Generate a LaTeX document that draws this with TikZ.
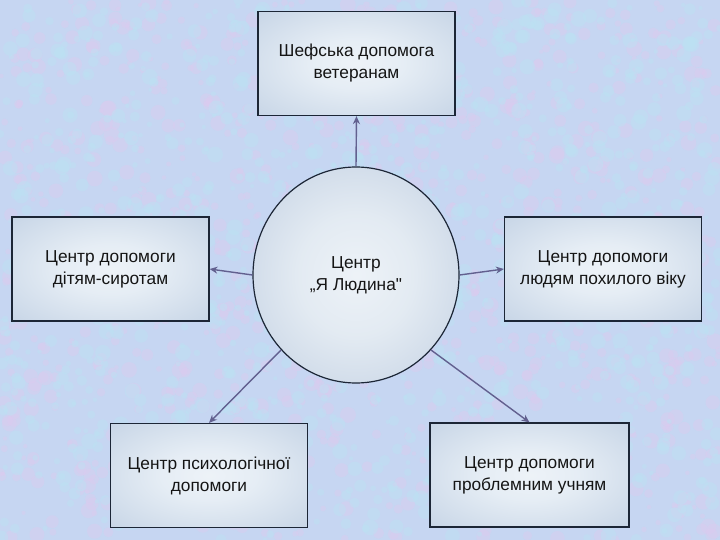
\documentclass[tikz,border=0pt]{standalone}
\usepackage{fontspec}
\setmainfont{Liberation Sans}[Ligatures=TeXOff]
\usetikzlibrary{arrows.meta,shapes.geometric}
\definecolor{bgbase}{HTML}{C6D6F2}
\definecolor{bglav}{HTML}{DCCBEF}
\definecolor{bgcyan}{HTML}{BCE2F4}
\definecolor{edgecol}{HTML}{1C2636}
\definecolor{arrowcol}{HTML}{62608F}
\definecolor{txtcol}{HTML}{151515}
\pgfdeclareradialshading{softglow}{\pgfpoint{0bp}{0bp}}{rgb(0bp)=(0.93,0.95,0.97); rgb(12bp)=(0.90,0.93,0.96); rgb(50bp)=(0.71,0.78,0.87); rgb(72bp)=(0.68,0.75,0.85)}
\pgfdeclareradialshading{ballglow}{\pgfpoint{0bp}{0bp}}{rgb(0bp)=(0.93,0.95,0.97); rgb(14bp)=(0.89,0.92,0.95); rgb(50bp)=(0.68,0.75,0.85); rgb(72bp)=(0.68,0.75,0.85)}
\begin{document}
\begin{tikzpicture}[x=1pt,y=-1pt,
  infobox/.style={rectangle, draw=edgecol, line width=1.2pt, shading=softglow,
    minimum width=197pt, minimum height=104pt, inner sep=0pt, align=center,
    text=txtcol, font=\fontsize{17.3}{22}\selectfont},
  hub/.style={ellipse, draw=edgecol, line width=1.2pt, shading=ballglow,
    minimum width=206pt, minimum height=216pt, inner sep=0pt, align=center,
    text=txtcol, font=\fontsize{17.3}{22}\selectfont},
  link/.style={draw=arrowcol, line width=1.4pt, -{Stealth[length=8pt,width=7pt]}}
]
\useasboundingbox (0,0) rectangle (720,540);
\fill[bgbase] (0,0) rectangle (720,540);
\pgfmathsetseed{11}
\foreach \i in {1,...,1100}{
  \pgfmathsetmacro{\xx}{rnd*720}
  \pgfmathsetmacro{\yy}{rnd*540}
  \pgfmathsetmacro{\rr}{2+rnd*6}
  \fill[bglav, opacity=0.45] (\xx,\yy) circle (\rr);
}
\foreach \i in {1,...,1100}{
  \pgfmathsetmacro{\xx}{rnd*720}
  \pgfmathsetmacro{\yy}{rnd*540}
  \pgfmathsetmacro{\rr}{2+rnd*6}
  \fill[bgcyan, opacity=0.45] (\xx,\yy) circle (\rr);
}

\node[hub] (c) at (356,275) {Центр\\„Я Людина"};
\node[infobox] (top) at (356.5,63.5) {Шефська допомога\\ветеранам};
\node[infobox] (left) at (110.5,269) {Центр допомоги\\дітям-сиротам};
\node[infobox] (right) at (603,269) {Центр допомоги\\людям похилого віку};
\node[infobox] (bl) at (209,475.5) {Центр психологічної\\допомоги};
\node[infobox, minimum width=199pt] (br) at (529.5,475) {Центр допомоги\\проблемним учням};

\draw[link] (c.north) -- (top.south);
\draw[link] (c.west) -- (left.east);
\draw[link] (c.east) -- (right.west);
\draw[link] (c.225) -- (bl.north);
\draw[link] (c.-45) -- (br.north);
\end{tikzpicture}
\end{document}
